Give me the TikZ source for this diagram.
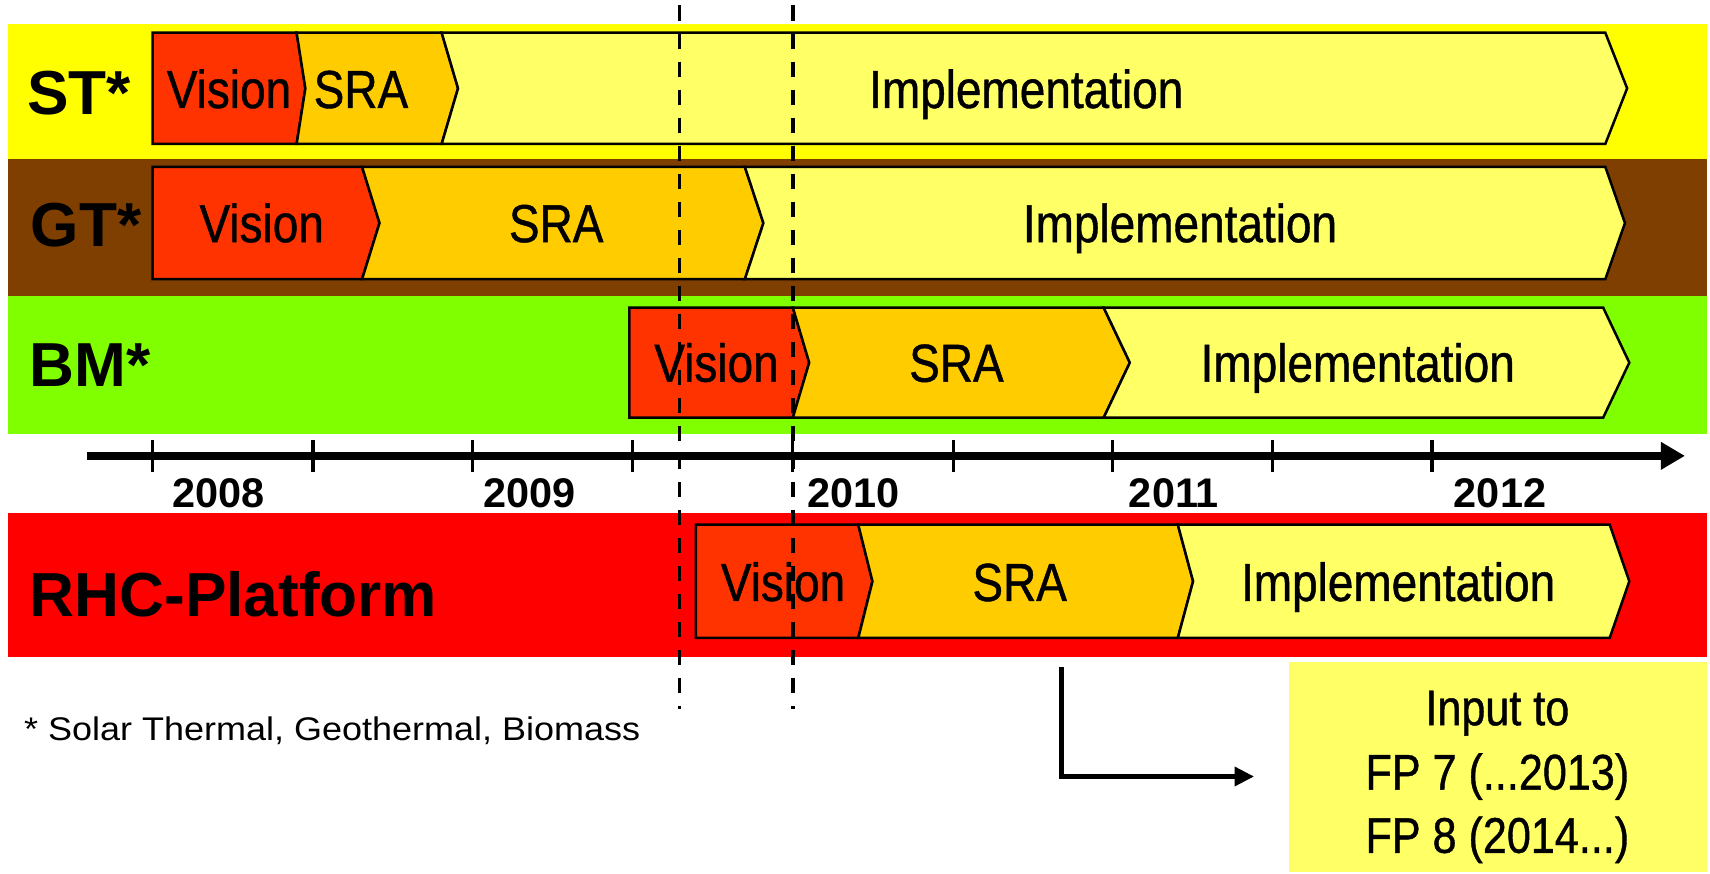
\documentclass[tikz,border=0pt]{standalone}
\usepackage{fontspec}
\setmainfont{Liberation Sans}
\newfontfamily\phasefont[FakeStretch=0.86,FakeBold=0.8]{Liberation Sans}
\newfontfamily\notefont[FakeStretch=1.1]{Liberation Sans}
\usetikzlibrary{arrows.meta}

\definecolor{visfill}{HTML}{FF3300}
\definecolor{srafill}{HTML}{FFCC00}
\definecolor{impfill}{HTML}{FFFF66}
\definecolor{stband}{HTML}{FFFF00}
\definecolor{gtband}{HTML}{7F3F00}
\definecolor{bmband}{HTML}{80FF00}
\definecolor{rhcband}{HTML}{FF0000}

% one chevron-shaped phase: fill, left x, notch x, shoulder x, tip x, top y, bottom y
\newcommand\drawphase[7]{%
  \filldraw[phaseline, fill=#1] (#2,#6) -- (#4,#6) -- (#5,{(#6+#7)/2}) -- (#4,#7)
    -- (#2,#7) -- (#3,{(#6+#7)/2}) -- cycle;}

\tikzset{
  phaseline/.style={draw=black, line width=2.3pt, line join=miter},
  phasetext/.style={anchor=base, inner sep=0pt, font=\phasefont\fontsize{49}{50}\selectfont},
  inputtext/.style={anchor=base, inner sep=0pt, font=\phasefont\fontsize{46}{50}\selectfont},
  rowlabel/.style={anchor=base west, inner sep=0pt, font=\bfseries\fontsize{57}{60}\selectfont},
  yearlabel/.style={anchor=base west, inner sep=0pt, font=\bfseries\fontsize{38}{40}\selectfont},
  tick/.style={line width=3pt},
  milestone/.style={line width=3.2pt, dash pattern=on 14pt off 11.7pt},
  feedback/.style={line width=4.6pt, -{Triangle[length=18pt,width=17pt]}},
}

\begin{document}
\begin{tikzpicture}[x=1pt, y=-1pt]
\useasboundingbox (0,0) rectangle (1568,801);

% background bands of the four rows
\fill[stband]  (7,22)  rectangle (1565,146);
\fill[gtband]  (7,146) rectangle (1565,271);
\fill[bmband]  (7,271) rectangle (1565,398);
\fill[rhcband] (7,470) rectangle (1565,602);

% ST row
\drawphase{visfill}{140}{140}{272}{280}{30}{132}
\drawphase{srafill}{272}{280}{405}{420}{30}{132}
\drawphase{impfill}{405}{420}{1472}{1492}{30}{132}
\node[rowlabel]  (stlab) at (25,105) {ST*};
\node[phasetext] (stvis) at (210,99) {Vision};
\node[phasetext] (stsra) at (331,99) {SRA};
\node[phasetext] (stimp) at (941,99) {Implementation};

% GT row
\drawphase{visfill}{140}{140}{332}{348}{153}{256}
\drawphase{srafill}{332}{348}{683}{700}{153}{256}
\drawphase{impfill}{683}{700}{1472}{1490}{153}{256}
\node[rowlabel]  (gtlab) at (28,226) {GT*};
\node[phasetext] (gtvis) at (240,222) {Vision};
\node[phasetext] (gtsra) at (510,222) {SRA};
\node[phasetext] (gtimp) at (1082,222) {Implementation};

% BM row
\drawphase{visfill}{577}{577}{727}{742}{282}{383}
\drawphase{srafill}{727}{742}{1012}{1036}{282}{383}
\drawphase{impfill}{1012}{1036}{1470}{1494}{282}{383}
\node[rowlabel]  (bmlab) at (27,354) {BM*};
\node[phasetext] (bmvis) at (657,350) {Vision};
\node[phasetext] (bmsra) at (877,350) {SRA};
\node[phasetext] (bmimp) at (1245,350) {Implementation};

% time axis
\coordinate (axstart) at (80,418);
\coordinate (axend) at (1545,418);
\draw[line width=7pt, -{Triangle[length=22pt,width=24pt]}] (axstart) -- (axend);
\foreach \tx in {140,287,433,580,727,874,1020,1167,1313}
  \draw[tick] (\tx,403) -- (\tx,433);
\node[yearlabel] (y2008) at (158,465) {2008};
\node[yearlabel] (y2009) at (443,465) {2009};
\node[yearlabel] (y2010) at (740,465) {2010};
\node[yearlabel] (y2011) at (1035,465) {2011};
\node[yearlabel] (y2012) at (1333,465) {2012};

% RHC-Platform row
\drawphase{visfill}{638}{638}{787}{800}{481}{585}
\drawphase{srafill}{787}{800}{1080}{1094}{481}{585}
\drawphase{impfill}{1080}{1094}{1476}{1494}{481}{585}
\node[rowlabel]  (rhclab) at (27,565) {RHC-Platform};
\node[phasetext] (rhcvis) at (718,551) {Vision};
\node[phasetext] (rhcsra) at (935,551) {SRA};
\node[phasetext] (rhcimp) at (1282,551) {Implementation};

% milestone markers
\draw[milestone] (623,5) -- (623,650);
\draw[milestone] (727,5) -- (727,650);

% footnote
\node[anchor=base west, inner sep=0pt, font=\notefont\fontsize{30}{32}\selectfont]
  (note) at (22,679) {* Solar Thermal, Geothermal, Biomass};

% framework programme box
\node[fill=impfill, draw=none, minimum width=383pt, minimum height=193pt,
  inner sep=0pt] (input) at (1373.5,703.5) {};
\node[inputtext] (inl1) at (1373,665) {Input to};
\node[inputtext] (inl2) at (1373,724) {FP 7 (...2013)};
\node[inputtext] (inl3) at (1373,782) {FP 8 (2014...)};

\coordinate (fbstart) at (973,612);
\coordinate (fbend) at (1150,712);
\draw[feedback] (fbstart) |- (fbend);
\end{tikzpicture}
\end{document}
